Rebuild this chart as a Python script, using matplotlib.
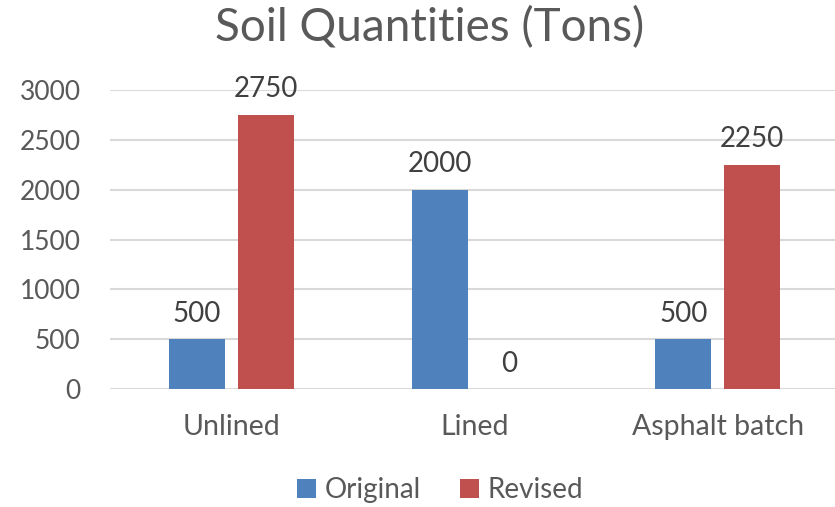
import numpy as np
import matplotlib.pyplot as plt

# chart data
categories = ['Unlined', 'Lined', 'Asphalt batch']
original = [500, 2000, 500]
revised = [2750, 0, 2250]
series_names = ['Original', 'Revised']
yticks = [0, 500, 1000, 1500, 2000, 2500, 3000]

blue = '#4F81BD'
red = '#C0504D'
txt = '#595959'

plt.rcParams['font.family'] = ['Lato', 'DejaVu Sans']

fig = plt.figure(figsize=(8.35, 5.07), dpi=100)
ax = fig.add_axes([0.1317, 0.2327, 0.8735, 0.5898])

x = np.arange(len(categories))
w = 0.23
off = 0.142
b1 = ax.bar(x - off, original, w, color=blue, label=series_names[0], zorder=3)
b2 = ax.bar(x + off, revised, w, color=red, label=series_names[1], zorder=3)

# value labels above bars
for bars in (b1, b2):
    for r in bars:
        ax.annotate(str(int(r.get_height())), (r.get_x() + r.get_width() / 2, r.get_height()),
                    xytext=(0, 9), textcoords='offset points', ha='center', va='bottom',
                    fontsize=20, color='#404040')

ax.set_xlim(-0.5, 2.5)
ax.set_ylim(0, 3000)
ax.set_yticks(yticks)
ax.set_xticks(x)
ax.set_xticklabels(categories)
ax.grid(axis='y', color='#d9d9d9', linewidth=1.5, zorder=0)
for s in ax.spines.values():
    s.set_visible(False)
ax.tick_params(axis='both', length=0, colors=txt)
ax.tick_params(axis='y', pad=21, labelsize=19)
ax.tick_params(axis='x', pad=18, labelsize=20.5)

fig.text(0.515, 0.945, 'Soil Quantities (Tons)', ha='center', va='center', fontsize=33, color=txt)
fig.legend(loc='center', bbox_to_anchor=(0.527, 0.033), ncol=2, frameon=False,
           fontsize=20, labelcolor=txt, handlelength=0.7, handleheight=0.7,
           handletextpad=0.3, columnspacing=1.4)

plt.savefig('out.png', dpi=100)
